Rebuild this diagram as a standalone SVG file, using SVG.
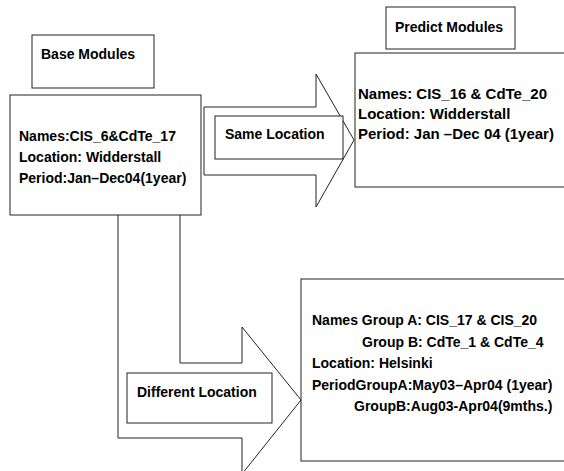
<svg xmlns="http://www.w3.org/2000/svg" width="564" height="471" viewBox="0 0 564 471">
<style>
.b{fill:#fff;stroke:#222;stroke-width:1}
.t{font-family:"Liberation Sans",Arial,sans-serif;font-weight:bold;font-size:14px;fill:#000}
.t15{font-size:15px}
</style>
<rect x="0" y="0" width="564" height="471" fill="#fff"/>
<g id="connectors">
<path class="b" d="M204,107 L316,107 L316,74 L354,140 L316,207 L316,175 L204,175 Z"/>
<path class="b" d="M118,215 L118,438 L242,438 L242,474 L301,400 L242,327 L242,363 L180,363 L180,215"/>
</g>
<g id="base-label">
<rect class="b" x="32" y="35" width="122" height="53"/>
<text class="t" x="41" y="59">Base Modules</text>
</g>
<g id="base-modules">
<rect class="b" x="10" y="95" width="191" height="120"/>
<text class="t" x="19" y="141">Names:CIS_6&amp;CdTe_17</text>
<text class="t" x="19" y="162">Location: Widderstall</text>
<text class="t" x="19" y="183">Period:Jan–Dec04(1year)</text>
</g>
<g id="same-location">
<rect class="b" x="215" y="116" width="128" height="43"/>
<text class="t" x="225" y="139">Same Location</text>
</g>
<g id="predict-label">
<rect class="b" x="386" y="7" width="129" height="42"/>
<text class="t" x="395" y="32">Predict Modules</text>
</g>
<g id="predict-modules">
<rect class="b" x="355" y="53" width="220" height="134"/>
<text class="t t15" x="358" y="99">Names: CIS_16 &amp; CdTe_20</text>
<text class="t t15" x="358" y="119">Location: Widderstall</text>
<text class="t t15" x="358" y="139">Period: Jan –Dec 04 (1year)</text>
</g>
<g id="different-location">
<rect class="b" x="127" y="373" width="145" height="50"/>
<text class="t" x="137" y="397">Different Location</text>
</g>
<g id="helsinki-modules">
<rect class="b" x="301" y="279" width="275" height="182"/>
<text class="t" x="312" y="325">Names Group A: CIS_17 &amp; CIS_20</text>
<text class="t" x="362" y="347">Group B: CdTe_1 &amp; CdTe_4</text>
<text class="t" x="312" y="368">Location: Helsinki</text>
<text class="t" x="312" y="390">PeriodGroupA:May03–Apr04 (1year)</text>
<text class="t" x="354" y="411">GroupB:Aug03-Apr04(9mths.)</text>
</g>
</svg>
